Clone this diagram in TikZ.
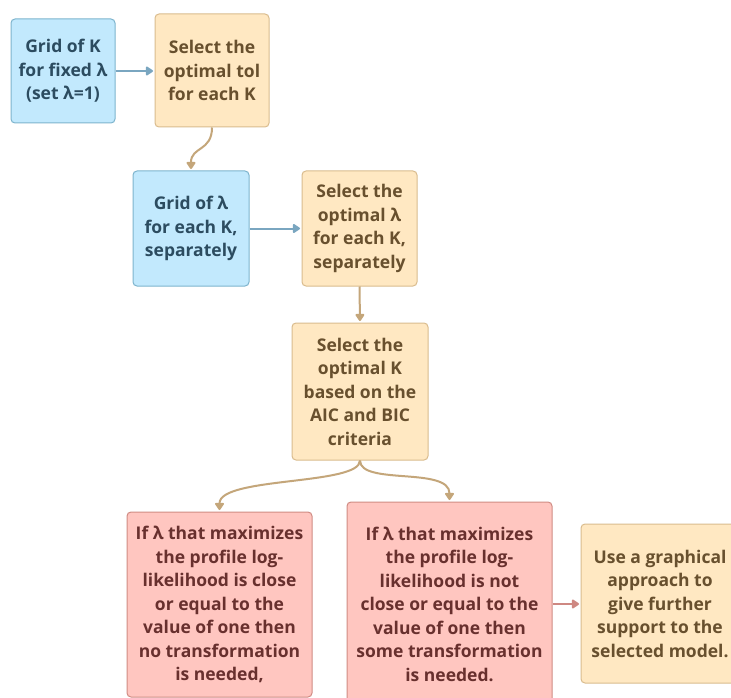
\documentclass[tikz,border=0pt]{standalone}
\usepackage{fontspec}
\setmainfont{Open Sans}
\usetikzlibrary{arrows.meta}
\definecolor{bfill}{RGB}{194,233,253}
\definecolor{bdraw}{RGB}{125,180,205}
\definecolor{btext}{RGB}{44,76,96}
\definecolor{ofill}{RGB}{255,232,194}
\definecolor{odraw}{RGB}{218,188,142}
\definecolor{otext}{RGB}{104,80,46}
\definecolor{rfill}{RGB}{255,198,192}
\definecolor{rdraw}{RGB}{208,140,132}
\definecolor{rtext}{RGB}{104,48,46}
\definecolor{barrow}{RGB}{122,166,192}
\definecolor{oarrow}{RGB}{196,166,122}
\definecolor{rarrow}{RGB}{206,136,130}
\tikzset{
  boxbase/.style={rectangle, rounded corners=4pt, line width=1pt, align=center, inner sep=0pt,
    font=\bfseries\fontsize{17.5}{23.5}\selectfont},
  bluebox/.style={boxbase, fill=bfill, draw=bdraw, text=btext},
  orangebox/.style={boxbase, fill=ofill, draw=odraw, text=otext},
  redbox/.style={boxbase, fill=rfill, draw=rdraw, text=rtext},
  conn/.style={line width=2pt, -{Triangle[length=8pt,width=10pt,round]}, shorten >=1.5pt},
}
\begin{document}
\begin{tikzpicture}[x=1pt,y=-1pt]
\useasboundingbox (0,0) rectangle (731,698);
\clip (0,0) rectangle (731,698);
\fill[white] (0,0) rectangle (731,698);
\node[bluebox, minimum width=104pt, minimum height=104pt] (b1) at (63,71) {Grid of K\\for fixed λ\\(set λ=1)};
\node[orangebox, minimum width=114pt, minimum height=113pt] (o1) at (212,70.5) {Select the\\optimal tol\\for each K};
\node[bluebox, minimum width=116pt, minimum height=115pt] (b2) at (191,228.5) {Grid of λ\\for each K,\\separately};
\node[orangebox, minimum width=115pt, minimum height=115pt] (o2) at (359.5,228.5) {Select the\\optimal λ\\for each K,\\separately};
\node[orangebox, minimum width=136pt, minimum height=137pt] (o3) at (360,391.5) {Select the\\optimal K\\based on the\\AIC and BIC\\criteria};
\node[redbox, minimum width=185pt, minimum height=185pt] (r1) at (219.5,604.5) {If λ that maximizes\\the profile log-\\likelihood is close\\or equal to the\\value of one then\\no transformation\\is needed,};
\node[redbox, minimum width=205pt, minimum height=204pt] (r2) at (449.5,604) {If λ that maximizes\\the profile log-\\likelihood is not\\close or equal to the\\value of one then\\some transformation\\is needed.};
\node[orangebox, minimum width=158pt, minimum height=159pt] (o4) at (660,603.5) {Use a graphical\\approach to\\give further\\support to the\\selected model.};

\draw[conn, draw=barrow] (b1.east) -- (o1.west |- b1.east);
\draw[conn, draw=oarrow] (o1.south) .. controls +(0,24) and +(0,-24) .. (b2.north);
\draw[conn, draw=barrow] (b2.east) -- (o2.west |- b2.east);
\draw[conn, draw=oarrow] (o2.south) -- (o3.north);
\draw[conn, draw=oarrow] (o3.south) .. controls +(0,25) and +(0,-35) .. (r1.north);
\draw[conn, draw=oarrow] (o3.south) .. controls +(0,25) and +(0,-35) .. (r2.north);
\draw[conn, draw=rarrow] (r2.east) -- (o4.west |- r2.east);
\end{tikzpicture}
\end{document}
